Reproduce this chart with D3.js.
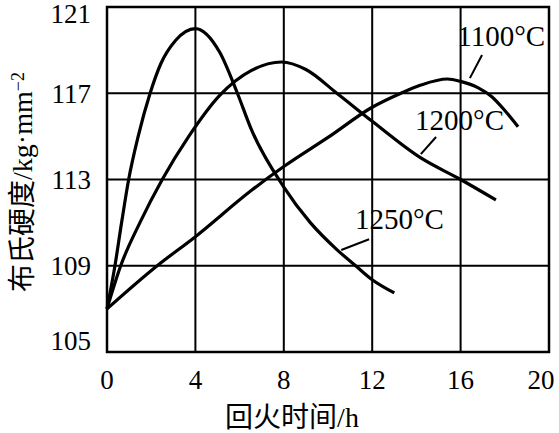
<html>
<head>
  <script src="https://d3js.org/d3.v7.min.js"></script>
  <style>
  body { margin: 0; background: #fff; }
  text { font-family: "Liberation Serif", "Noto Sans CJK SC", serif; fill: #000; }
  </style>
</head>
<body>
<script>

// tempering time (h) vs Brinell hardness
var t1250 = [0, 0.36, 0.66, 0.98, 1.41, 1.95, 2.44, 3.1, 4, 5.1, 5.9, 6.54, 8, 9.2, 10.4, 11.25, 12, 13];
var v1250 = [107, 109, 111, 113, 115, 117, 118.38, 119.45, 120.0, 118.9, 117, 115.3, 112.65, 111.0, 109.75, 109, 108.35, 107.74];

var t1200 = [0, 0.62, 1.49, 2.5, 3.7, 5.1, 6.54, 7.9, 9, 10.4, 12, 14.2, 16, 17.6];
var v1200 = [107, 109, 111, 113, 115, 116.9, 118.06, 118.45, 118.1, 117, 115.7, 114.0, 113.0, 112.05];

var t1100 = [0, 2.27, 4, 6.54, 8, 10, 12, 13.3, 14.2, 15.4, 16, 16.8, 17.4, 18.0, 18.6];
var v1100 = [107, 109, 110.35, 112.5, 113.6, 114.95, 116.35, 117, 117.38, 117.66, 117.55, 117.25, 116.85, 116.2, 115.45];

var xTicks = [0, 4, 8, 12, 16, 20];
var yTicks = [105, 109, 113, 117, 121];

// label text, label anchor (x, y), leader from -> to
var labels = ["1100°C", "1200°C", "1250°C"];
var labelAt = [[15.85, 119.2], [13.94, 115.3], [11.22, 110.7]];
var leaderFrom = [[16.97, 118.77], [14.89, 114.97], [11.86, 110.23]];
var leaderTo = [[16.42, 117.7], [14.2, 114.18], [10.6, 109.73]];

var width = 559, height = 433;

var svg = d3.select('body')
  .append('svg')
  .attr('width', width)
  .attr('height', height);

var x = d3.scaleLinear().domain([0, 20]).range([107, 549]);
var y = d3.scaleLinear().domain([105, 121]).range([352, 7]);

// grid
svg.append('g').selectAll('line')
  .data(xTicks.slice(1, -1))
  .enter().append('line')
  .attr('x1', function(d) { return x(d); })
  .attr('x2', function(d) { return x(d); })
  .attr('y1', y(105)).attr('y2', y(121))
  .attr('stroke', '#000').attr('stroke-width', 2);

svg.append('g').selectAll('line')
  .data(yTicks.slice(1, -1))
  .enter().append('line')
  .attr('y1', function(d) { return y(d); })
  .attr('y2', function(d) { return y(d); })
  .attr('x1', x(0)).attr('x2', x(20))
  .attr('stroke', '#000').attr('stroke-width', 2);

// frame
svg.append('rect')
  .attr('x', x(0)).attr('y', y(121))
  .attr('width', x(20) - x(0)).attr('height', y(105) - y(121))
  .attr('fill', 'none').attr('stroke', '#000').attr('stroke-width', 2.5);

// tick labels
svg.append('g').selectAll('text')
  .data(xTicks)
  .enter().append('text')
  .attr('x', function(d) { return Math.min(x(d), 541); })
  .attr('y', 389)
  .attr('text-anchor', 'middle')
  .style('font-size', '27px')
  .text(function(d) { return d; });

svg.append('g').selectAll('text')
  .data(yTicks)
  .enter().append('text')
  .attr('x', 91)
  .attr('y', function(d) { return Math.min(Math.max(y(d), 14), 341); })
  .attr('dy', '0.35em')
  .attr('text-anchor', 'end')
  .style('font-size', '27px')
  .text(function(d) { return d; });

// axis titles
svg.append('text')
  .attr('x', 292).attr('y', 427)
  .attr('text-anchor', 'middle')
  .style('font-size', '28px')
  .text('回火时间/h');

var yt = svg.append('text')
  .attr('transform', 'translate(32,182) rotate(-90)')
  .attr('text-anchor', 'middle')
  .style('font-size', '28px');
yt.append('tspan').text('布氏硬度/kg·mm');
yt.append('tspan').attr('dy', '-0.45em').style('font-size', '18px').text('−2');

// curves
var line = d3.line()
  .x(function(d) { return x(d[0]); })
  .y(function(d) { return y(d[1]); })
  .curve(d3.curveMonotoneX);

var series = [[t1250, v1250], [t1200, v1200], [t1100, v1100]];

svg.append('g').selectAll('path')
  .data(series)
  .enter().append('path')
  .attr('d', function(s) { return line(d3.zip(s[0], s[1])); })
  .attr('fill', 'none')
  .attr('stroke', '#000')
  .attr('stroke-width', 3.2)
  .attr('stroke-linejoin', 'round');

// curve labels and leaders
var ann = svg.append('g');
ann.selectAll('line')
  .data(d3.range(labels.length))
  .enter().append('line')
  .attr('x1', function(i) { return x(leaderFrom[i][0]); })
  .attr('y1', function(i) { return y(leaderFrom[i][1]); })
  .attr('x2', function(i) { return x(leaderTo[i][0]); })
  .attr('y2', function(i) { return y(leaderTo[i][1]); })
  .attr('stroke', '#000').attr('stroke-width', 2);

ann.selectAll('text')
  .data(d3.range(labels.length))
  .enter().append('text')
  .attr('x', function(i) { return x(labelAt[i][0]); })
  .attr('y', function(i) { return y(labelAt[i][1]); })
  .style('font-size', '29px')
  .text(function(i) { return labels[i]; });

</script>
</body>
</html>
